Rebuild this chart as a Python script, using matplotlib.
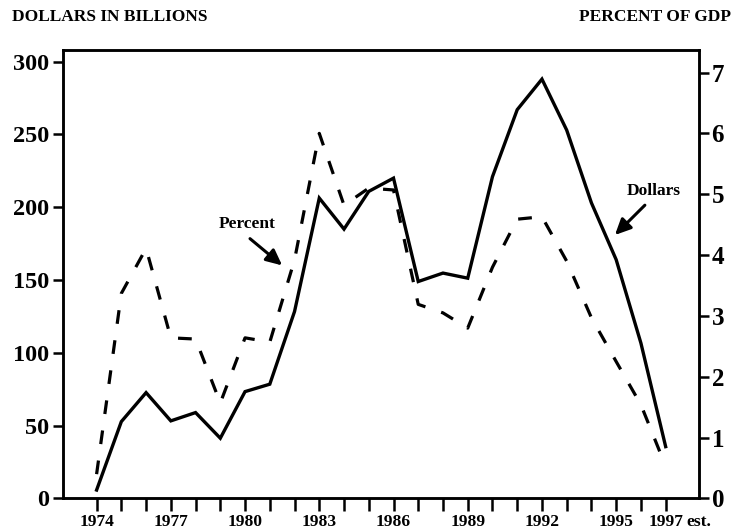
import matplotlib.pyplot as plt

plt.rcParams['font.family'] = 'Liberation Serif'
plt.rcParams['font.weight'] = 'bold'

years = list(range(1974, 1998))
dollars = [5.8, 52.8, 72.7, 53.3, 59.0, 41.4, 73.4, 78.5, 128.4, 206.3, 185.0, 210.9,
           220.0, 149.0, 154.8, 151.3, 221.0, 267.0, 288.0, 253.0, 203.0, 164.0, 106.7, 35.6]
percent = [0.4, 3.37, 4.11, 2.64, 2.62, 1.57, 2.64, 2.57, 3.92, 6.0, 4.82, 5.1,
           5.07, 3.19, 3.05, 2.8, 3.8, 4.59, 4.63, 3.9, 2.97, 2.25, 1.54, 0.53]
label_years = [1974, 1977, 1980, 1983, 1986, 1989, 1992, 1995, 1997]
left_ticks = [0, 50, 100, 150, 200, 250, 300]
right_ticks = [0, 1, 2, 3, 4, 5, 6, 7]

fig = plt.figure(figsize=(7.32, 5.32), dpi=100)
ax = fig.add_axes([0.086, 0.063, 0.869, 0.843])
ax2 = ax.twinx()

ax.plot(years, dollars, color='black', lw=2.4, solid_joinstyle='miter')
ax2.plot(years, percent, color='black', lw=2.3, linestyle=(0, (4.3, 5.2)))

ax.set_xlim(1972.64, 1998.35)
ax.set_ylim(0, 308)
ax2.set_ylim(0, 7.37)

ax.set_xticks(years)
ax.set_xticklabels([str(y) if y in label_years else '' for y in years], fontsize=12.5)
ax.set_yticks(left_ticks)
ax.set_yticklabels([str(v) for v in left_ticks], fontsize=17.5)
ax2.set_yticks(right_ticks)
ax2.set_yticklabels([str(v) for v in right_ticks], fontsize=18)

for a in (ax, ax2):
    for s in a.spines.values():
        s.set_linewidth(1.8)
ax.tick_params(axis='y', direction='out', length=7, width=1.8, pad=3, colors='black')
ax.tick_params(axis='x', direction='out', length=9, width=1.8, pad=2, colors='black')
ax2.tick_params(axis='y', direction='out', length=7, width=1.8, pad=2)

# "est." after the 1997 tick label
ax.annotate('est.', xy=(1997, 0), xycoords=('data', 'axes fraction'),
            xytext=(15, -11), textcoords='offset points', fontsize=12.5,
            ha='left', va='top')

fig.text(0.016, 0.968, 'DOLLARS IN BILLIONS', fontsize=12.5, ha='left', va='center')
fig.text(0.998, 0.968, 'PERCENT OF GDP', fontsize=12.5, ha='right', va='center')

arrow = dict(arrowstyle='-|>,head_length=0.95,head_width=0.45', color='black', lw=2.2,
             shrinkA=0, shrinkB=0)
ax2.annotate('', xy=(1981.5, 3.83), xytext=(1980.2, 4.27), arrowprops=arrow)
ax2.text(1980.1, 4.51, 'Percent', fontsize=12.5, ha='center', va='center')
ax2.annotate('', xy=(1994.95, 4.33), xytext=(1996.16, 4.82), arrowprops=arrow)
ax2.text(1996.5, 5.05, 'Dollars', fontsize=12.5, ha='center', va='center')

fig.savefig('out.png', dpi=100)
